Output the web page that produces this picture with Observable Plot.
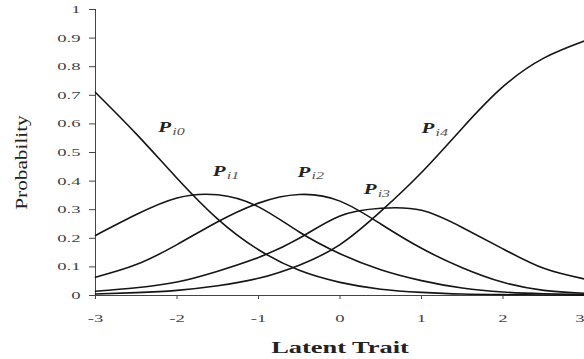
<!DOCTYPE html>
<html><head><meta charset="utf-8">
<script src="https://cdn.jsdelivr.net/npm/d3@7"></script>
<script src="https://cdn.jsdelivr.net/npm/@observablehq/plot@0.6"></script>
<style>html,body{margin:0;padding:0;background:#fff;overflow:hidden}</style>
</head><body><div id="chart"></div>
<script>
const theta = [-3, -2.5, -2, -1.5, -1, -0.5, 0, 0.5, 1, 1.5, 2, 2.5, 3];
const p0 = [0.71, 0.565, 0.41, 0.267, 0.16, 0.088, 0.046, 0.022, 0.011, 0.005, 0.003, 0.002, 0.001];
const p1 = [0.21, 0.283, 0.341, 0.352, 0.31, 0.222, 0.146, 0.09, 0.052, 0.026, 0.012, 0.006, 0.003];
const p2 = [0.064, 0.108, 0.178, 0.258, 0.323, 0.353, 0.33, 0.25, 0.165, 0.097, 0.046, 0.018, 0.008];
const p3 = [0.015, 0.027, 0.047, 0.085, 0.133, 0.2, 0.278, 0.305, 0.298, 0.238, 0.163, 0.095, 0.058];
const p4 = [0.005, 0.01, 0.018, 0.034, 0.06, 0.106, 0.178, 0.294, 0.43, 0.585, 0.73, 0.83, 0.89];
const seriesNames = ["Pi0", "Pi1", "Pi2", "Pi3", "Pi4"];
const seriesValues = [p0, p1, p2, p3, p4];

const labelMain = ["P", "P", "P", "P", "P"];
const labelSub = ["i0", "i1", "i2", "i3", "i4"];
const labelTheta = [-2.23, -1.56, -0.52, 0.29, 1.0];
const labelProb = [0.587, 0.434, 0.432, 0.37, 0.584];

const xTicks = [-3, -2, -1, 0, 1, 2, 3];
const xTickLabels = ["-3", "-2", "-1", "0", "1", "2", "3"];
const yTicks = [0, 0.1, 0.2, 0.3, 0.4, 0.5, 0.6, 0.7, 0.8, 0.9, 1];
const yTickLabels = ["0", "0.1", "0.2", "0.3", "0.4", "0.5", "0.6", "0.7", "0.8", "0.9", "1"];
const xTitle = "Latent Trait";
const yTitle = "Probability";

const rows = seriesNames.flatMap((s, i) => theta.map((t, j) => ({series: s, theta: t, p: seriesValues[i][j]})));
const labels = labelMain.map((m, i) => ({main: m, sub: labelSub[i], theta: labelTheta[i], p: labelProb[i]}));

const chart = Plot.plot({
  width: 584, height: 359,
  marginLeft: 95, marginRight: 0, marginTop: 9, marginBottom: 64,
  style: {fontFamily: "'Liberation Serif', 'Times New Roman', serif", background: "#fff", overflow: "visible"},
  x: {domain: [-3, 3], label: null},
  y: {domain: [0, 1], label: null},
  marks: [
    Plot.axisY({ticks: yTicks, tickFormat: d => yTickLabels[yTicks.indexOf(d)], tickSize: 6, tickPadding: 9, fontSize: 11, label: null, color: "#444"}),
    Plot.axisX({ticks: xTicks, tickFormat: d => xTickLabels[xTicks.indexOf(d)], tickSize: 4, tickPadding: 15, fontSize: 11, label: null, color: "#444"}),
    Plot.ruleX([-3], {y1: 0, y2: 1, stroke: "#444", strokeWidth: 1}),
    Plot.ruleY([0], {stroke: "#444", strokeWidth: 1}),
    Plot.line(rows, {x: "theta", y: "p", z: "series", curve: "natural", stroke: "#151515", strokeWidth: 1.6}),
    Plot.text(labels, {x: "theta", y: "p", text: "main", textAnchor: "start", fontWeight: "bold", fontStyle: "italic", fontSize: 15, fill: "#222"}),
    Plot.text(labels, {x: "theta", y: "p", text: "sub", textAnchor: "start", dx: 14, dy: 4, fontStyle: "italic", fontSize: 10, fill: "#555"}),
    Plot.text([xTitle], {frameAnchor: "bottom", textAnchor: "middle", lineAnchor: "middle", dy: 52, fontWeight: "bold", fontSize: 16, fill: "#222"}),
    Plot.text([yTitle], {frameAnchor: "left", textAnchor: "middle", lineAnchor: "middle", dx: -74, dy: 10, rotate: -90, fontSize: 17, fill: "#222"})
  ]
});
document.getElementById("chart").appendChild(chart);

function stretch(sel, sx) {
  chart.querySelectorAll(sel).forEach(t => {
    const tr = t.getAttribute("transform") || "";
    t.setAttribute("transform", tr + ` scale(${sx},1)`);
  });
}
stretch('g[aria-label="y-axis tick label"] text', 1.7);
stretch('g[aria-label="x-axis tick label"] text', 1.7);
const xl = chart.querySelectorAll('g[aria-label="x-axis tick label"] text');
if (xl.length) xl[xl.length - 1].setAttribute("text-anchor", "end");
const tg = chart.querySelectorAll('g[aria-label="text"]');
const factors = [1.4, 1.6, 1.65, 1.25];
tg.forEach((g, i) => {
  g.querySelectorAll("text").forEach(t => {
    const tr = t.getAttribute("transform") || "";
    t.setAttribute("transform", tr + ` scale(${factors[i]},1)`);
  });
});
</script>
</body></html>
